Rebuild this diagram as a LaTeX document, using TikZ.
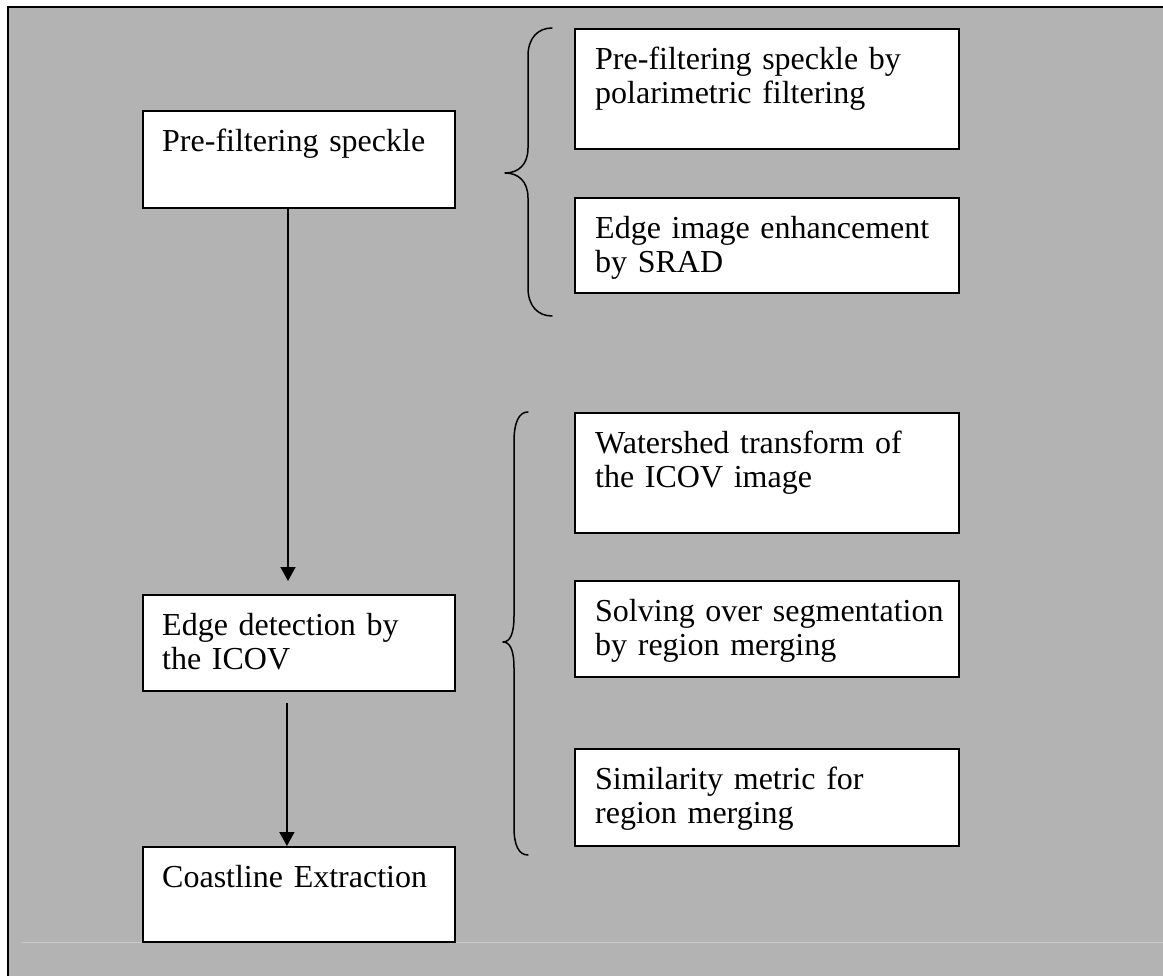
\documentclass[tikz,border=0pt]{standalone}
\usepackage{fontspec}
\setmainfont{Liberation Serif}
\usetikzlibrary{arrows.meta,calc}
\definecolor{panel}{HTML}{B3B3B3}
\definecolor{faintrule}{HTML}{CACACA}

\begin{document}
\begin{tikzpicture}[x=1pt,y=-1pt,
  box/.style={draw=black, line width=2pt, fill=white, anchor=north west,
              inner sep=0pt, rectangle},
  txt/.style={anchor=base west, inner sep=0pt, align=left, text width=370pt,
              font=\fontsize{32}{34}\selectfont},
  flow/.style={line width=1.5pt, -{Triangle[width=15pt,length=14pt]}},
  brace/.style={line width=1.5pt, line cap=round, line join=round}
]
\useasboundingbox (0,0) rectangle (1163,976);

% grey panel with its left and top rule
\fill[white] (0,0) rectangle (1163,976);
\fill[panel] (7.5,7.5) rectangle (1163,976);
\draw[line width=2pt] (7.5,976) -- (7.5,7.5) -- (1163,7.5);
\draw[faintrule, line width=1pt] (22,942) -- (1163,942);

% main chain
\node[box, minimum width=312pt, minimum height=97pt] (pre) at (142,110) {};
\node[box, minimum width=312pt, minimum height=96pt] (edge) at (142,594) {};
\node[box, minimum width=312pt, minimum height=95pt] (coast) at (142,846) {};

\node[txt] (preT) at ($(pre.north west)+(20,41.5)$) {Pre-filtering speckle};
\node[txt] (edgeT) at ($(edge.north west)+(20,41.5)$) {Edge detection by\\the ICOV};
\node[txt] (coastT) at ($(coast.north west)+(20,41.5)$) {Coastline Extraction};

% detail boxes
\node[box, minimum width=384pt, minimum height=120pt] (polar) at (574,28) {};
\node[box, minimum width=384pt, minimum height=95pt] (srad) at (574,197) {};
\node[box, minimum width=384pt, minimum height=120pt] (water) at (574,412) {};
\node[box, minimum width=384pt, minimum height=96pt] (solve) at (574,580) {};
\node[box, minimum width=384pt, minimum height=97pt] (simil) at (574,748) {};

\node[txt] (polarT) at ($(polar.north west)+(21,41.5)$) {Pre-filtering speckle by\\polarimetric filtering};
\node[txt] (sradT) at ($(srad.north west)+(21,41.5)$) {Edge image enhancement\\by SRAD};
\node[txt] (waterT) at ($(water.north west)+(21,41.5)$) {Watershed transform of\\the ICOV image};
\node[txt] (solveT) at ($(solve.north west)+(21,41.5)$) {Solving over segmentation\\by region merging};
\node[txt] (similT) at ($(simil.north west)+(21,41.5)$) {Similarity metric for\\region merging};

% arrows
\draw[flow, shorten >=13pt]
  ($(pre.south west)!0.465!(pre.south east)$) -- ($(edge.north west)!0.465!(edge.north east)$);
\draw[flow, shorten <=11pt]
  ($(edge.south west)!0.4615!(edge.south east)$) -- ($(coast.north west)!0.4615!(coast.north east)$);

% braces
\draw[brace] (552,28) .. controls (538,28) and (528,38) .. (528,56)
  -- (528,148) .. controls (528,165) and (518,173) .. (505,173)
  .. controls (518,173) and (528,181) .. (528,198)
  -- (528,288) .. controls (528,306) and (538,316) .. (552,316);
\draw[brace] (528,412) .. controls (519,412) and (514,422) .. (514,442)
  -- (514,616) .. controls (514,634) and (510,642) .. (503,642)
  .. controls (510,642) and (514,650) .. (514,668)
  -- (514,827) .. controls (514,846) and (519,855) .. (528,855);
\end{tikzpicture}
\end{document}
